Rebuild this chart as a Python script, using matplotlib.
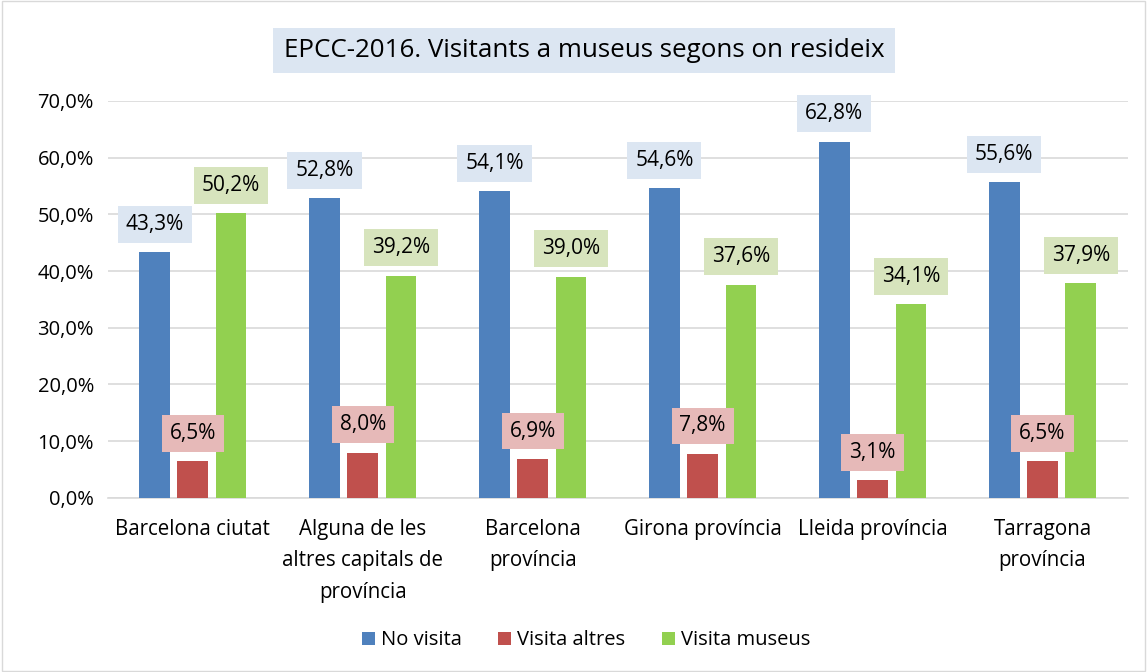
import numpy as np
import matplotlib.pyplot as plt
from matplotlib.patches import Rectangle

plt.rcParams['font.family'] = ['Open Sans', 'DejaVu Sans']

categories = ["Barcelona ciutat", "Alguna de les\naltres capitals de\nprovíncia",
              "Barcelona\nprovíncia", "Girona província", "Lleida província",
              "Tarragona\nprovíncia"]
no_visita = [43.3, 52.8, 54.1, 54.6, 62.8, 55.6]
visita_altres = [6.5, 8.0, 6.9, 7.8, 3.1, 6.5]
visita_museus = [50.2, 39.2, 39.0, 37.6, 34.1, 37.9]
series_names = ["No visita", "Visita altres", "Visita museus"]

colors = ["#4F81BD", "#C0504D", "#92D050"]
label_bg = ["#DCE6F2", "#E6B9B8", "#D7E4BD"]

fig = plt.figure(figsize=(11.47, 6.72), dpi=100)
ax = fig.add_axes([0.094, 0.259, 0.889, 0.591])

# figure border
fig.patches.append(Rectangle((0.002, 0.002), 0.996, 0.996, transform=fig.transFigure,
                             fill=False, edgecolor="#D9D9D9", linewidth=1))

x = np.arange(len(categories))
w = 0.18
step = 0.225
for i, (vals, c, bg, name) in enumerate(zip([no_visita, visita_altres, visita_museus],
                                            colors, label_bg, series_names)):
    pos = x + (i - 1) * step
    ax.bar(pos, vals, width=w, color=c, label=name, zorder=3)
    for p, v in zip(pos, vals):
        ax.annotate(f"{v:.1f}%".replace(".", ","), (p, v), xytext=(0, 20),
                    textcoords="offset points", ha="center", va="center",
                    fontsize=15, zorder=4,
                    bbox=dict(boxstyle="square,pad=0.38", facecolor=bg, edgecolor="none"))

ax.set_xlim(-0.5, len(categories) - 0.5)
ax.set_ylim(0, 70)
ax.set_yticks(np.arange(0, 71, 10))
ax.set_yticklabels([f"{t:.1f}%".replace(".", ",") for t in np.arange(0, 71, 10)], fontsize=14.5)
ax.set_xticks(x)
ax.set_xticklabels(categories, fontsize=14.8, linespacing=1.65)
ax.tick_params(axis="y", length=0, pad=10)
ax.tick_params(axis="x", length=0, pad=15)
ax.grid(axis="y", color="#D9D9D9", linewidth=1.2, zorder=0)
for s in ["top", "right", "left"]:
    ax.spines[s].set_visible(False)
ax.spines["bottom"].set_color("#D9D9D9")
ax.spines["bottom"].set_linewidth(1.2)

fig.text(0.509, 0.925, "EPCC-2016. Visitants a museus segons on resideix", ha="center",
         va="center", fontsize=18.7,
         bbox=dict(boxstyle="square,pad=0.4", facecolor="#DCE6F2", edgecolor="none"))

fig.legend(loc="center", bbox_to_anchor=(0.511, 0.047), ncol=3, frameon=False,
           fontsize=14.5, handlelength=0.65, handleheight=0.65, handletextpad=0.3,
           columnspacing=1.8)

fig.savefig("out.png", dpi=100)
